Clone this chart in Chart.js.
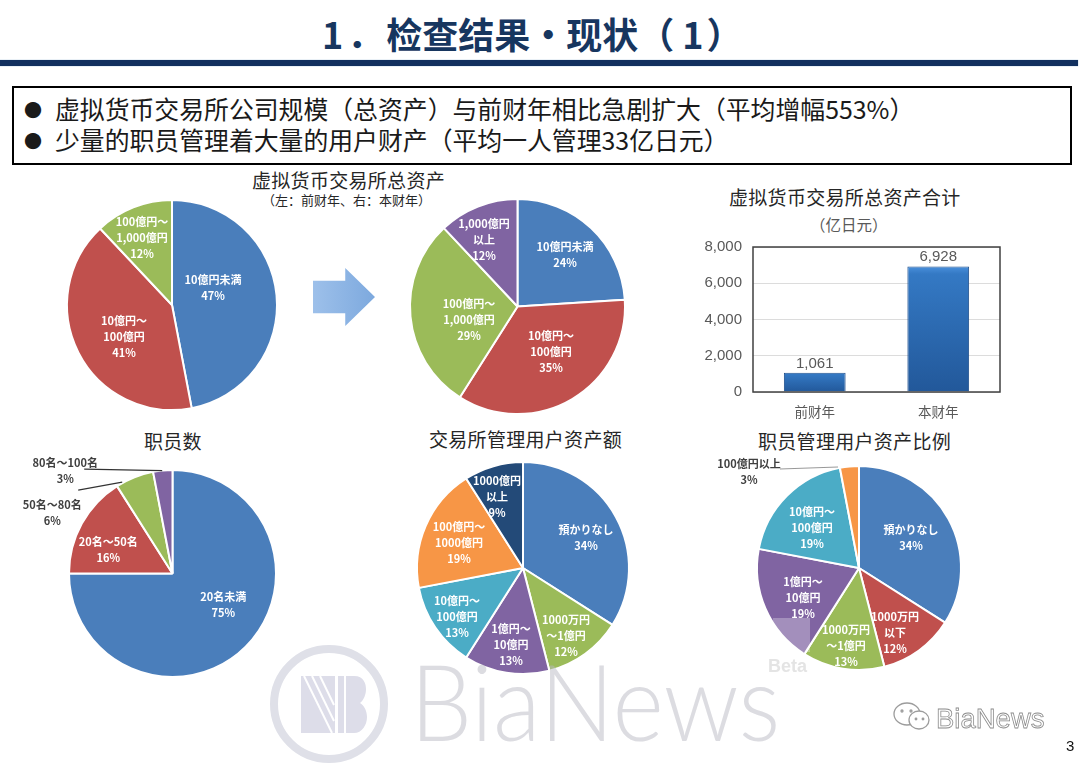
<!DOCTYPE html>
<html lang="zh-CN">
<head>
<meta charset="utf-8">
<title>检查结果</title>
<script src="https://cdn.jsdelivr.net/npm/chart.js@4/dist/chart.umd.min.js"></script>
<style>
html, body { margin: 0; padding: 0; background: #fff; }
body { width: 1080px; height: 763px; position: relative; overflow: hidden; font-family: "Noto Sans CJK SC", sans-serif; filter: blur(.4px); }
.abs { position: absolute; white-space: nowrap; line-height: 1; }
canvas { position: absolute; }
#mainTitle { left: 322px; top: 15px; font-size: 36px; font-weight: 700; color: #17365f; }
#mainTitle span { display: inline-block; }
#rule { left: 0; top: 60px; width: 1078px; height: 6px; background: #12305f; box-shadow: 0 0 1px #7fa8c8; }
#box { left: 12px; top: 86px; width: 1056px; height: 75px; border: 2.5px solid #000; }
.point { left: 24px; font-size: 24.85px; color: #1a1a1a; }
.point b { font-weight: 400; display: inline-block; width: 31px; font-size: 18px; vertical-align: 2px; }
.sub { color: #262626; font-size: 19px; letter-spacing: .3px; }
#arrow { left: 313px; top: 268px; width: 62px; height: 58px; background: linear-gradient(90deg, #9dc0ea, #7da9de);
  clip-path: polygon(0 22%, 52% 22%, 52% 0, 100% 50%, 52% 100%, 52% 78%, 0 78%); }
#mark { left: 0; top: 0; pointer-events: none; }
#beta { left: 768px; top: 656px; font: 700 18px "Liberation Sans", sans-serif; color: #e4e4e4; }
#patch { left: 773px; top: 618px; width: 37px; height: 34px; background: rgba(255,255,255,.28); }
#bianews { left: 410px; top: 635px; font: 300 107px Lato, sans-serif; color: rgba(185,185,195,.5); transform: scaleX(.92); transform-origin: 0 0; }
#wechat { left: 936px; top: 703px; font: 400 27.5px "Liberation Sans", sans-serif; color: #fff; -webkit-text-stroke: .8px #8c8c8c; }
#page { left: 1066px; top: 737px; font: 400 15px "Liberation Sans", sans-serif; color: #111; }
</style>
</head>
<body>

<div class="abs" id="mainTitle"><span style="margin-right:4px">1</span><span style="margin-right:3px">．</span>检查结果・现状（<span style="margin:0 3px 0 8px">1</span>）</div>
<div class="abs" id="rule"></div>
<div class="abs" id="box"></div>
<div class="abs point" style="top:96px"><b>●</b>虚拟货币交易所公司规模（总资产）与前财年相比急剧扩大（平均增幅553%）</div>
<div class="abs point" style="top:127px"><b>●</b>少量的职员管理着大量的用户财产（平均一人管理33亿日元）</div>

<div class="abs sub" style="left:252px;top:170px">虚拟货币交易所总资产</div>
<div class="abs" style="left:262px;top:193px;font-size:13px;color:#262626">（左：前财年、右：本财年）</div>
<div class="abs sub" style="left:729px;top:187px">虚拟货币交易所总资产合计</div>
<div class="abs" style="left:810px;top:217px;font-size:15.5px;color:#595959">（亿日元）</div>
<div class="abs sub" style="left:144px;top:431px">职员数</div>
<div class="abs sub" style="left:429px;top:429px">交易所管理用户资产额</div>
<div class="abs sub" style="left:758px;top:431px">职员管理用户资产比例</div>

<div class="abs" id="arrow"></div>

<canvas id="assetsBefore"></canvas>
<canvas id="assetsAfter"></canvas>
<canvas id="totalBars"></canvas>
<canvas id="staffPie"></canvas>
<canvas id="userAssets"></canvas>
<canvas id="staffRatio"></canvas>

<div class="abs" id="patch"></div>
<div class="abs" id="beta">Beta</div>
<svg class="abs" id="mark" width="1080" height="763">
  <circle cx="329" cy="704" r="55" fill="none" stroke="#dfe0e8" stroke-width="8"/>
  <rect x="301" y="676" width="34" height="57" fill="#dddde9"/>
  <rect x="338" y="676" width="6" height="57" fill="#dddde9"/>
  <path d="M346 676h8c10 0 12 8 12 13s-2 11-6 14c5 3 7 9 7 14 0 8-5 16-13 16h-8z" fill="#dddde9"/>
  <path d="M304 676l28 57M312 676l22 45M320 676l14 29" stroke="#fff" stroke-width="2" fill="none"/>
  <g fill="none" stroke="#9c9c9c" stroke-width="1.3">
    <ellipse cx="907" cy="714" rx="13" ry="11"/>
    <ellipse cx="919" cy="720" rx="10" ry="9" fill="#fff"/>
    <circle cx="902" cy="711" r="1"/><circle cx="911" cy="711" r="1"/>
    <circle cx="916" cy="719" r=".8"/><circle cx="923" cy="719" r=".8"/>
  </g>
</svg>
<div class="abs" id="bianews">BiaNews</div>
<div class="abs" id="wechat">BiaNews</div>
<div class="abs" id="page">3</div>

<script>
const BLUE = "#4a7ebb", RED = "#c0504d", GREEN = "#9bbb59", PURPLE = "#8064a2",
      TEAL = "#4bacc6", ORANGE = "#f79646", NAVY = "#234a78";

const beforeCats = ["10億円未満", "10億円～\n100億円", "100億円～\n1,000億円"];
const beforeVals = [47, 41, 12];

const afterCats = ["10億円未満", "10億円～\n100億円", "100億円～\n1,000億円", "1,000億円\n以上"];
const afterVals = [24, 35, 29, 12];

const barCats = ["前财年", "本财年"];
const barVals = [1061, 6928];
const barTicks = [0, 2000, 4000, 6000, 8000];

const staffCats = ["20名未満", "20名～50名", "50名～80名", "80名～100名"];
const staffVals = [75, 16, 6, 3];

const userCats = ["預かりなし", "1000万円\n～1億円", "1億円～\n10億円", "10億円～\n100億円", "100億円～\n1000億円", "1000億円\n以上"];
const userVals = [34, 12, 13, 13, 19, 9];

const ratioCats = ["預かりなし", "1000万円\n以下", "1000万円\n～1億円", "1億円～\n10億円", "10億円～\n100億円", "100億円以上"];
const ratioVals = [34, 12, 13, 19, 19, 3];

const PIE_MARGIN = 60;

// draws the slice captions at page positions, excel moved these by hand so they don't follow the arcs
const pieLabels = {
    id: "pieLabels",
    afterDatasetsDraw(chart, args, opts) {
        let ctx = chart.ctx;
        let box = chart.canvas.getBoundingClientRect();
        ctx.save();
        ctx.textAlign = "center";
        ctx.textBaseline = "middle";
        ctx.font = "700 11px 'Noto Sans CJK JP'";
        (opts.lines || []).forEach(l => {
            ctx.strokeStyle = l[4];
            ctx.lineWidth = 1.2;
            ctx.beginPath();
            ctx.moveTo(l[0] - box.left, l[1] - box.top);
            ctx.lineTo(l[2] - box.left, l[3] - box.top);
            ctx.stroke();
        });
        chart.data.labels.forEach((name, i) => {
            let spot = opts.spots[i];
            let rows = name.split("\n").concat(chart.data.datasets[0].data[i] + "%");
            ctx.fillStyle = spot[2] || "#fff";
            rows.forEach((row, r) => {
                ctx.fillText(row, spot[0] - box.left, spot[1] + r * 16 - box.top);
            });
        });
        ctx.restore();
    }
};

function makePie(id, centre, labels, values, colors, spots, lines) {
    let canvas = document.getElementById(id);
    let r = centre[2];
    let size = 2 * (r + PIE_MARGIN);
    canvas.width = size;
    canvas.height = size;
    canvas.style.width = size + "px";
    canvas.style.height = size + "px";
    canvas.style.left = (centre[0] - r - PIE_MARGIN) + "px";
    canvas.style.top = (centre[1] - r - PIE_MARGIN) + "px";

    return new Chart(canvas, {
        type: "pie",
        data: {
            labels: labels,
            datasets: [{
                data: values,
                backgroundColor: colors,
                borderColor: "#fff",
                borderWidth: 2
            }]
        },
        options: {
            responsive: false,
            animation: false,
            layout: { padding: PIE_MARGIN },
            plugins: {
                legend: { display: false },
                tooltip: { enabled: false },
                pieLabels: { spots: spots, lines: lines }
            }
        },
        plugins: [pieLabels]
    });
}

makePie("assetsBefore", [172, 304.5, 106], beforeCats, beforeVals, [BLUE, RED, GREEN],
    [[213, 279], [124, 320], [142, 221]]);

makePie("assetsAfter", [517.5, 306, 108.5], afterCats, afterVals, [BLUE, RED, GREEN, PURPLE],
    [[565, 246], [551, 335], [469, 303], [484, 223]]);

makePie("staffPie", [172.3, 573.3, 104.5], staffCats, staffVals, [BLUE, RED, GREEN, PURPLE],
    [[223, 597], [108, 542], [52, 505, "#404040"], [65, 463, "#404040"]],
    [[84, 469, 162, 470.5, "#333"], [78, 490, 122, 482, "#333"]]);

makePie("userAssets", [523, 568, 107], userCats, userVals, [BLUE, GREEN, PURPLE, TEAL, ORANGE, NAVY],
    [[586, 530], [566, 620], [511, 629], [457, 601], [459, 527], [497, 481]]);

makePie("staffRatio", [859, 568, 103], ratioCats, ratioVals, [BLUE, RED, GREEN, PURPLE, TEAL, ORANGE],
    [[911, 530], [895, 617], [846, 630], [803, 582], [812, 512], [749, 464, "#404040"]],
    [[780, 469, 838, 467, "#999"]]);

// frame round the plot and the figures over the bars
const barExtras = {
    id: "barExtras",
    afterDatasetsDraw(chart) {
        let ctx = chart.ctx;
        let a = chart.chartArea;
        ctx.save();
        ctx.strokeStyle = "#404040";
        ctx.lineWidth = 1.5;
        ctx.strokeRect(a.left, a.top, a.right - a.left, a.bottom - a.top);
        ctx.fillStyle = "#595959";
        ctx.font = "15px 'Liberation Sans'";
        ctx.textAlign = "center";
        chart.getDatasetMeta(0).data.forEach((bar, i) => {
            ctx.fillText(barVals[i].toLocaleString("en-US"), bar.x, bar.y - 5);
        });
        ctx.restore();
    }
};

let barCanvas = document.getElementById("totalBars");
barCanvas.width = 320;
barCanvas.height = 198;
barCanvas.style.cssText = "left:700px;top:227px;width:320px;height:198px";

new Chart(barCanvas, {
    type: "bar",
    data: {
        labels: barCats,
        datasets: [{
            data: barVals,
            backgroundColor(c) {
                let y = c.chart.scales.y;
                if (!y || c.type !== "data" || !isFinite(y.bottom)) return "#2f6db5";
                let g = c.chart.ctx.createLinearGradient(0, y.getPixelForValue(barVals[c.dataIndex]), 0, y.bottom);
                g.addColorStop(0, "#4a90dc");
                g.addColorStop(0.06, "#3479c4");
                g.addColorStop(1, "#22589a");
                return g;
            },
            borderColor: "#1f4f8c",
            borderWidth: 1,
            categoryPercentage: 0.5,
            barPercentage: 1
        }]
    },
    options: {
        responsive: false,
        animation: false,
        layout: { padding: { top: 5, right: 20 } },
        plugins: { legend: { display: false }, tooltip: { enabled: false } },
        scales: {
            x: {
                grid: { display: false },
                border: { display: false },
                ticks: { color: "#595959", font: { size: 13.5, family: "'Noto Sans CJK SC'" }, padding: 4 },
                afterFit(s) { s.height = 33; }
            },
            y: {
                min: 0,
                max: 8000,
                afterBuildTicks(s) { s.ticks = barTicks.map(v => ({ value: v })); },
                grid: { color: "#dcdcdc", drawTicks: false },
                border: { display: false },
                ticks: {
                    color: "#595959",
                    font: { size: 15, family: "'Liberation Sans'" },
                    padding: 11,
                    callback: v => v.toLocaleString("en-US")
                },
                afterFit(s) { s.width = 53; }
            }
        }
    },
    plugins: [barExtras]
});
</script>
</body>
</html>
